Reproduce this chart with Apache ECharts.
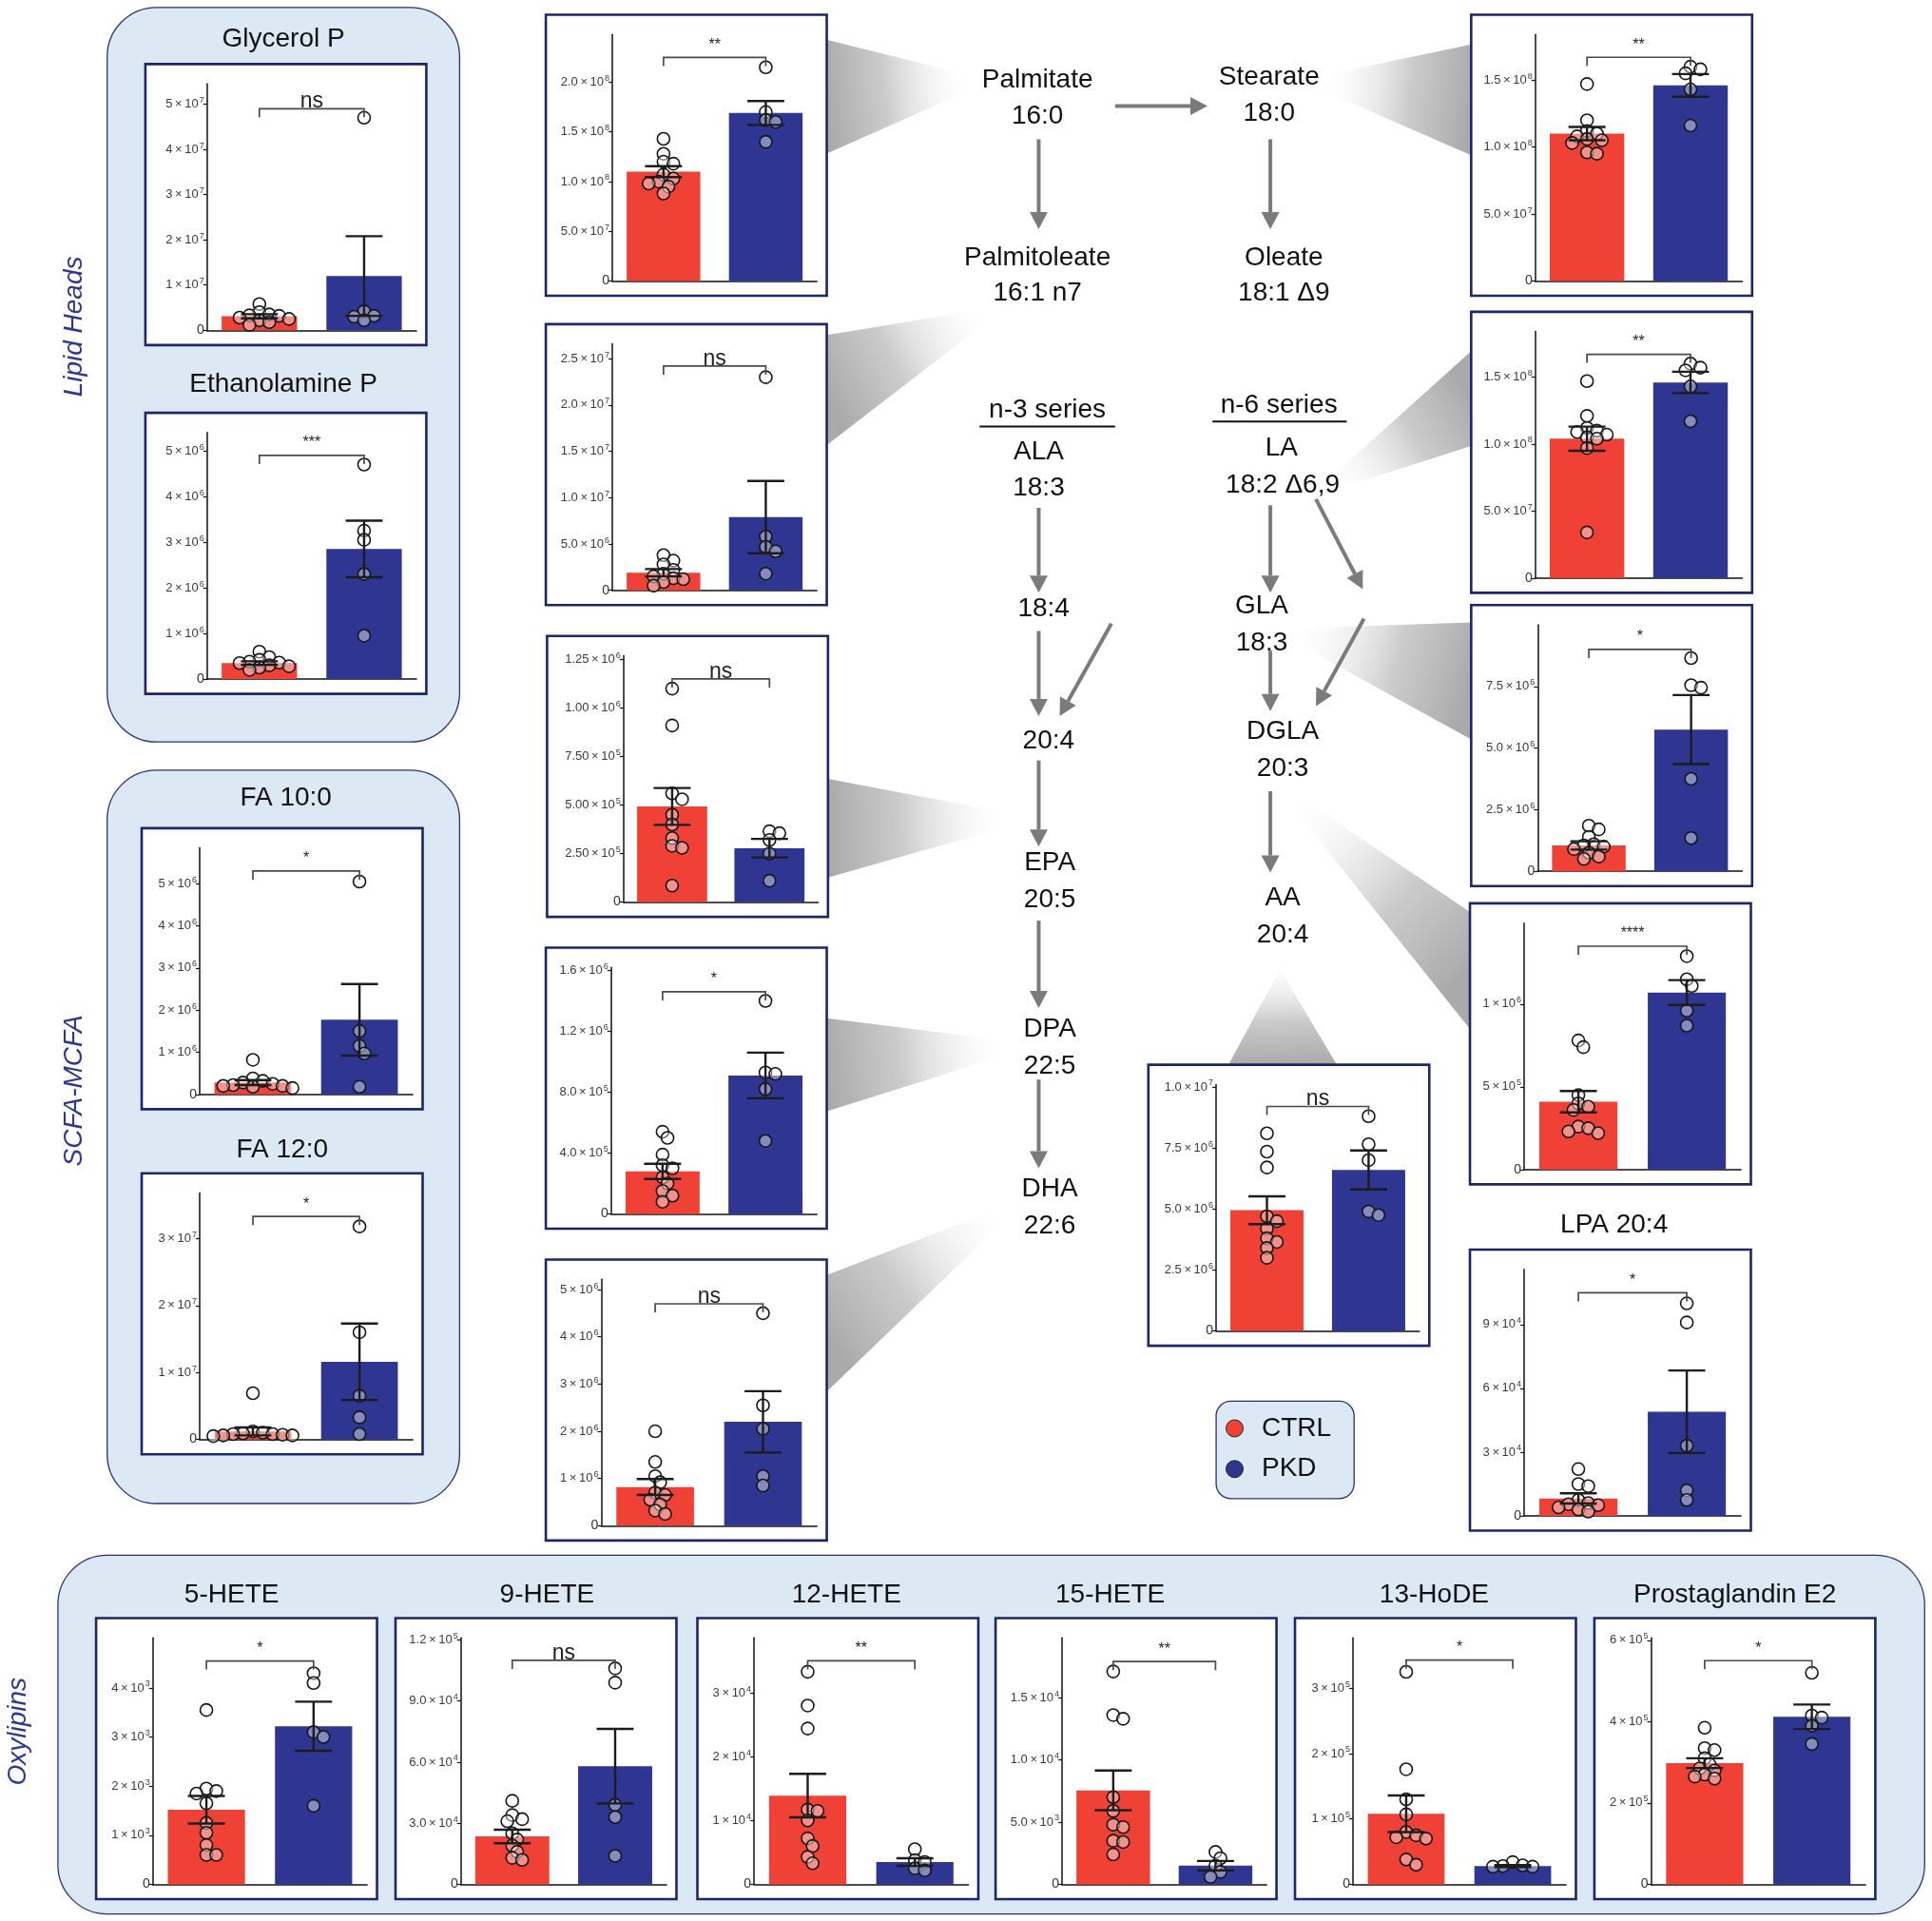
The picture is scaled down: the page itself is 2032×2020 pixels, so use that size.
<!DOCTYPE html>
<html><head><meta charset="utf-8">
<script src="https://cdn.jsdelivr.net/npm/echarts@6/dist/echarts.min.js"></script>
<style>html,body{margin:0;padding:0;background:#fff}#c{width:2032px;height:2020px}</style>
</head><body><div id="c"></div><script>
// ---------------- DATA ----------------
const groups = ['CTRL', 'PKD'];
const panelTitles = ['Glycerol P','Ethanolamine P','FA 10:0','FA 12:0','Palmitate','Palmitoleate','EPA','DPA','DHA',
  'Stearate','LA','GLA','DGLA','LPA 20:4','AA','5-HETE','9-HETE','12-HETE','15-HETE','13-HoDE','Prostaglandin E2'];
const ctrlPoints = [
  [5.8e6,4.0e6,3.5e6,3.3e6,3.2e6,2.8e6,2.5e6,2.2e6,1.8e6,1.2e6],
  [0.6e6,0.48e6,0.42e6,0.38e6,0.36e6,0.35e6,0.3e6,0.28e6,0.25e6,0.2e6],
  [0.82e6,0.38e6,0.32e6,0.28e6,0.25e6,0.22e6,0.2e6,0.2e6,0.18e6,0.15e6],
  [6.9e6,1.2e6,1.0e6,0.9e6,0.8e6,0.8e6,0.7e6,0.6e6,0.6e6,0.5e6],
  [1.43e8,1.28e8,1.2e8,1.18e8,1.07e8,1.03e8,1.0e8,0.98e8,0.95e8,0.88e8],
  [3.8e6,3.2e6,2.8e6,2.2e6,1.8e6,1.5e6,1.3e6,1.2e6,0.9e6,0.5e6],
  [1.1e6,0.91e6,0.56e6,0.53e6,0.45e6,0.4e6,0.33e6,0.29e6,0.28e6,0.085e6],
  [0.54e6,0.5e6,0.39e6,0.32e6,0.3e6,0.24e6,0.2e6,0.15e6,0.12e6,0.08e6],
  [2.0e6,1.35e6,1.05e6,0.92e6,0.7e6,0.65e6,0.55e6,0.45e6,0.32e6,0.25e6],
  [1.47e8,1.2e8,1.12e8,1.1e8,1.08e8,1.06e8,1.05e8,1.03e8,0.96e8,0.95e8],
  [1.47e8,1.21e8,1.12e8,1.1e8,1.09e8,1.07e8,1.05e8,1.04e8,0.97e8,0.34e8],
  [1.85e6,1.7e6,1.4e6,1.1e6,1.05e6,1.0e6,0.9e6,0.75e6,0.6e6,0.5e6],
  [0.78e6,0.74e6,0.45e6,0.4e6,0.38e6,0.36e6,0.26e6,0.25e6,0.23e6,0.22e6],
  [2.2e4,1.5e4,1.4e4,0.75e4,0.6e4,0.55e4,0.5e4,0.4e4,0.3e4,0.2e4],
  [8.1e6,7.35e6,6.7e6,4.7e6,4.5e6,4.2e6,3.8e6,3.65e6,3.4e6,3.0e6],
  [3.55e3,1.95e3,1.9e3,1.85e3,1.65e3,1.25e3,1.05e3,0.8e3,0.6e3,0.6e3],
  [4.1e4,3.4e4,3.2e4,3.1e4,2.5e4,2.2e4,1.9e4,1.6e4,1.3e4,1.2e4],
  [3.33e4,2.8e4,2.44e4,1.17e4,1.15e4,1.0e4,0.72e4,0.6e4,0.43e4,0.33e4],
  [1.71e4,1.36e4,1.33e4,7.0e3,5.9e3,4.8e3,4.6e3,3.5e3,3.4e3,2.4e3],
  [3.25e5,1.76e5,1.3e5,1.07e5,0.8e5,0.75e5,0.72e5,0.7e5,0.38e5,0.3e5],
  [3.85e5,3.35e5,3.3e5,3.1e5,2.95e5,2.85e5,2.8e5,2.7e5,2.65e5,2.6e5]
];
const pkdPoints = [
  [4.7e7,4.2e6,3.2e6,3.0e6,2.2e6],
  [4.7e6,3.25e6,3.05e6,2.3e6,0.95e6],
  [5.05e6,1.5e6,1.15e6,0.97e6,0.18e6],
  [3.18e7,1.6e7,6.5e6,3.3e6,0.8e6],
  [2.15e8,1.7e8,1.62e8,1.6e8,1.4e8],
  [2.3e7,5.8e6,4.7e6,4.2e6,1.8e6],
  [0.365e6,0.355e6,0.32e6,0.25e6,0.11e6],
  [1.4e6,0.93e6,0.92e6,0.82e6,0.48e6],
  [4.5e6,2.55e6,2.05e6,1.05e6,0.85e6],
  [1.6e8,1.58e8,1.55e8,1.43e8,1.16e8],
  [1.6e8,1.57e8,1.55e8,1.43e8,1.17e8],
  [8.65e6,7.55e6,7.45e6,3.75e6,1.35e6],
  [1.29e6,1.15e6,1.11e6,0.96e6,0.87e6],
  [1.0e5,9.1e4,3.3e4,1.2e4,0.75e4],
  [8.8e6,7.65e6,7.0e6,4.9e6,4.75e6],
  [4.3e3,4.1e3,3.1e3,3.0e3,1.6e3],
  [1.06e5,9.9e4,3.9e4,3.3e4,1.4e4],
  [0.55e4,0.38e4,0.35e4,0.25e4,0.22e4],
  [2.6e3,2.1e3,1.5e3,1.0e3,0.6e3],
  [0.34e5,0.29e5,0.28e5,0.27e5,0.27e5],
  [5.2e5,4.15e5,4.1e5,3.9e5,3.45e5]
];
const barMeans = [
  [3.1e6,1.2e7],[0.35e6,2.85e6],[0.28e6,1.77e6],[1.2e6,1.16e7],[1.1e8,1.69e8],[1.9e6,7.9e6],
  [4.93e5,2.78e5],[2.8e5,9.1e5],[8.2e5,2.2e6],[1.1e8,1.46e8],[1.04e8,1.46e8],[1.05e6,5.75e6],
  [4.1e5,1.07e6],[8.2e3,4.9e4],[4.95e6,6.6e6],[1.52e3,3.22e3],[2.35e4,5.8e4],[1.39e4,3.5e3],
  [7.55e3,1.5e3],[1.08e5,2.8e4],[2.98e5,4.12e5]
];
const barSems = [
  [0.45e6,0.88e7],[0.04e6,0.62e6],[0.06e6,0.85e6],[0.6e6,0.57e7],[0.055e8,0.12e8],[0.4e6,0.39e7],
  [0.095e6,0.048e6],[0.05e6,0.15e6],[0.17e6,0.65e6],[0.05e8,0.085e8],[0.09e8,0.08e8],[0.17e6,1.4e6],
  [0.065e6,0.075e6],[0.24e4,1.94e4],[0.57e6,0.8e6],[0.28e3,0.5e3],[0.33e4,1.83e4],[0.34e4,0.06e4],
  [1.6e3,0.38e3],[0.28e5,0.015e5],[0.12e5,0.3e5]
];
const yTicks = [
  [0,1e7,2e7,3e7,4e7,5e7],[0,1e6,2e6,3e6,4e6,5e6],[0,1e6,2e6,3e6,4e6,5e6],[0,1e7,2e7,3e7],
  [0,5e7,1e8,1.5e8,2e8],[0,5e6,1e7,1.5e7,2e7,2.5e7],[0,2.5e5,5e5,7.5e5,1e6,1.25e6],[0,4e5,8e5,1.2e6,1.6e6],
  [0,1e6,2e6,3e6,4e6,5e6],[0,5e7,1e8,1.5e8],[0,5e7,1e8,1.5e8],[0,2.5e6,5e6,7.5e6],[0,5e5,1e6],
  [0,3e4,6e4,9e4],[0,2.5e6,5e6,7.5e6,1e7],[0,1e3,2e3,3e3,4e3],[0,3e4,6e4,9e4,1.2e5],[0,1e4,2e4,3e4],
  [0,5e3,1e4,1.5e4],[0,1e5,2e5,3e5],[0,2e5,4e5,6e5]
];
const tickDecimals = [0,0,0,0,1,1,2,1,0,1,1,1,0,0,1,0,1,0,1,0,0];
const yMax = [5.45e7,5.4e6,5.85e6,3.68e7,2.48e8,2.66e7,1.27e6,1.62e6,5.22e6,1.84e8,1.84e8,1.0e7,1.49e6,1.16e5,1.01e7,5.02e3,1.21e5,3.86e4,1.98e4,3.77e5,6.06e5];
const bracketY = [4.9e7,4.9e6,5.3e6,3.33e7,2.25e8,2.42e7,1.15e6,1.46e6,4.7e6,1.67e8,1.67e8,9.0e6,1.35e6,1.05e5,9.2e6,4.55e3,1.1e5,3.5e4,1.79e4,3.43e5,5.5e5];
const sigLabels = ['ns','***','*','*','**','ns','ns','*','ns','**','**','*','****','*','ns','*','ns','**','**','*','*'];

// ---------------- LAYOUT (reference px, scaled) ----------------
const S = 2032 / 1568;
const FONT = '"Liberation Sans", Arial, Helvetica, sans-serif';
const colors = ['#ef4136', '#2e3691'];
const boxes = [
  [118,52,50],[118,335,50],[115,672,47],[115,952,47],
  [443,12,54],[443,263,54],[444,516,62],[443,769,53],[443,1022,45],
  [1194,12,52],[1194,253,52],[1194,491,54],[1193,733,44],[1193,1014,44],
  [932,864,55],
  [78,1313,46],[321,1313,53],[566,1313,46],[808,1313,54],[1051,1313,47],[1294,1313,46]
];
const titlePos = [[230,32],[230,312],[232,648],[229,933],null,null,null,null,null,null,null,null,null,[1310,994],null,
  [188,1294],[444,1294],[687,1294],[901,1294],[1164,1294],[1408,1294]];

function fmtTick(v, dec) {
  if (v === 0) return '{z|0}';
  const e = Math.floor(Math.log10(v) + 1e-9);
  const m = v / Math.pow(10, e);
  return '{m|' + m.toFixed(dec) + '\u2009\u00d7\u200910}{e|' + e + '}';
}

function swarm(vals, center, pxPerY, bandPx, d) {
  const placed = [];
  const res = new Array(vals.length);
  const order = vals.map((v, k) => k).sort((a, b) => vals[b] - vals[a]);
  order.forEach(k => {
    const y = vals[k] * pxPerY;
    let off = 0;
    for (let t = 0; t < 60; t++) {
      off = t === 0 ? 0 : (t % 2 ? 1 : -1) * Math.ceil(t / 2) * d * 0.4;
      if (placed.every(p => Math.hypot(p[0] - off, p[1] - y) >= d * 0.62)) break;
    }
    placed.push([off, y]);
    res[k] = [center + off / bandPx, vals[k]];
  });
  return res;
}

const grids = [], xAxes = [], yAxes = [], series = [];
const SYM = 13;
panelTitles.forEach((name, i) => {
  const [bx, by, off] = boxes[i];
  const left = (bx + off) * S, top = (by + 16) * S, width = (220 - off) * S, height = 200 * S;
  grids.push({ left, top, width, height, show: false });
  xAxes.push({ gridIndex: i, type: 'category', data: groups, boundaryGap: true,
    axisLine: { onZero: false, lineStyle: { color: '#111', width: 1.5 } },
    axisTick: { alignWithLabel: true, length: 6, lineStyle: { color: '#111', width: 1.5 } },
    axisLabel: { show: false } });
  xAxes.push({ gridIndex: i, type: 'value', min: -0.5, max: 1.5, show: false,
    axisLine: { onZero: false }, splitLine: { show: false } });
  const dec = tickDecimals[i];
  yAxes.push({ gridIndex: i, type: 'value', min: 0, max: yMax[i],
    axisLine: { show: true, onZero: false, lineStyle: { color: '#111', width: 1.5 } },
    axisTick: { show: true, length: 4, customValues: yTicks[i], lineStyle: { color: '#111', width: 1.2 } },
    splitLine: { show: false },
    axisLabel: { customValues: yTicks[i], margin: 3, formatter: v => fmtTick(v, dec),
      rich: { z: { fontSize: 14, color: '#333', fontFamily: FONT, lineHeight: 17 },
              m: { fontSize: 13, color: '#3a3a3a', fontFamily: FONT, lineHeight: 17 },
              e: { fontSize: 9, color: '#3a3a3a', fontFamily: FONT, lineHeight: 10, verticalAlign: 'top', padding: [0, 0, 0, 1] } } } });
  series.push({ type: 'bar', xAxisIndex: 2 * i, yAxisIndex: i, barWidth: '72%', silent: true, z: 2,
    data: barMeans[i].map((v, k) => ({ value: v, itemStyle: { color: colors[k] } })) });
  const pxPerY = height / yMax[i], bandPx = width / 2;
  const pts = swarm(ctrlPoints[i], 0, pxPerY, bandPx, SYM).concat(swarm(pkdPoints[i], 1, pxPerY, bandPx, SYM));
  series.push({ type: 'scatter', xAxisIndex: 2 * i + 1, yAxisIndex: i, symbol: 'circle', symbolSize: SYM, silent: true, z: 3,
    itemStyle: { color: 'rgba(255,255,255,0.42)', borderColor: '#161616', borderWidth: 1.6, opacity: 1 },
    data: pts });
  series.push({ type: 'custom', xAxisIndex: 2 * i + 1, yAxisIndex: i, silent: true, z: 4,
    data: barMeans[i].map((m, k) => [k, m, barSems[i][k]]),
    renderItem: (params, api) => {
      const x = api.value(0), m = api.value(1), s = api.value(2);
      const pT = api.coord([x, m + s]), pB = api.coord([x, m - s]);
      const hw = 15 * S, st = { stroke: '#1c1c1c', lineWidth: 2.4 };
      return { type: 'group', children: [
        { type: 'line', shape: { x1: pT[0], y1: pT[1], x2: pB[0], y2: pB[1] }, style: st },
        { type: 'line', shape: { x1: pT[0] - hw, y1: pT[1], x2: pT[0] + hw, y2: pT[1] }, style: st },
        { type: 'line', shape: { x1: pB[0] - hw, y1: pB[1], x2: pB[0] + hw, y2: pB[1] }, style: st } ] };
    } });
  const lab = sigLabels[i];
  series.push({ type: 'custom', xAxisIndex: 2 * i + 1, yAxisIndex: i, silent: true, z: 4,
    data: [[0, bracketY[i]]],
    renderItem: (params, api) => {
      const y = api.value(1);
      const a = api.coord([0, y]), b = api.coord([1, y]);
      const tk = 7 * S, isNs = lab === 'ns';
      return { type: 'group', children: [
        { type: 'polyline', shape: { points: [[a[0], a[1] + tk], [a[0], a[1]], [b[0], b[1]], [b[0], b[1] + tk]] },
          style: { stroke: '#4a4a4a', lineWidth: 1.7, fill: null } },
        { type: 'text', x: (a[0] + b[0]) / 2, y: isNs ? a[1] + 4 : a[1] - 5,
          style: { text: lab, fontSize: isNs ? 23 : 16, fill: '#222', fontFamily: FONT, align: 'center', verticalAlign: 'bottom' } } ] };
    } });
});

// ---------------- DECORATION ----------------
const g = [];
function rrect(x, y, w, h, r, fill, stroke, lw, z) {
  g.push({ type: 'rect', z: z, shape: { x: x * S, y: y * S, width: w * S, height: h * S, r: r * S },
    style: { fill: fill, stroke: stroke, lineWidth: lw } });
}
function txt(s, x, y, size, opts) {
  g.push(Object.assign({ type: 'text', z: 10, x: x * S, y: y * S,
    style: Object.assign({ text: s, fontSize: size, fill: '#111', fontFamily: FONT, align: 'center', verticalAlign: 'middle' }, (opts && opts.style) || {}) },
    (opts && opts.el) || {}));
}
function arrow(x1, y1, x2, y2) {
  const X1 = x1 * S, Y1 = y1 * S, X2 = x2 * S, Y2 = y2 * S;
  const a = Math.atan2(Y2 - Y1, X2 - X1), hl = 18, hw = 9.5;
  const bx = X2 - hl * Math.cos(a), by = Y2 - hl * Math.sin(a);
  g.push({ type: 'line', z: 9, shape: { x1: X1, y1: Y1, x2: bx, y2: by }, style: { stroke: '#7b7b7b', lineWidth: 4 } });
  g.push({ type: 'polygon', z: 9, shape: { points: [[X2, Y2], [bx - hw * Math.sin(a), by + hw * Math.cos(a)], [bx + hw * Math.sin(a), by - hw * Math.cos(a)]] },
    style: { fill: '#7b7b7b' } });
}
function wedge(p1, p2, t1, t2) {
  const pts = [p1, p2, t2, t1].map(p => [p[0] * S, p[1] * S]);
  const bx = (pts[0][0] + pts[1][0]) / 2, byy = (pts[0][1] + pts[1][1]) / 2;
  const tx = (pts[2][0] + pts[3][0]) / 2, ty = (pts[2][1] + pts[3][1]) / 2;
  g.push({ type: 'polygon', z: -4, shape: { points: pts },
    style: { fill: { type: 'linear', global: true, x: bx, y: byy, x2: tx, y2: ty,
      colorStops: [{ offset: 0, color: 'rgba(165,165,165,0.95)' }, { offset: 0.4, color: 'rgba(190,190,190,0.8)' }, { offset: 1, color: 'rgba(255,255,255,0)' }] } } });
}

// group backgrounds
rrect(87, 6, 286, 596, 40, '#dce9f5', '#27336f', 1.3, -6);
rrect(87, 625, 286, 595, 40, '#dce9f5', '#27336f', 1.3, -6);
rrect(47, 1262, 1515, 291, 40, '#dce9f5', '#27336f', 1.3, -6);
rrect(987, 1137, 112, 79, 12, '#dce9f5', '#27336f', 1.3, -6);

// wedges
wedge([670,32],[670,125],[790,62],[790,72]);
wedge([670,272],[670,362],[805,250],[805,258]);
wedge([672,632],[672,712],[820,660],[820,670]);
wedge([670,826],[670,902],[820,845],[820,855]);
wedge([670,1035],[670,1130],[818,978],[818,988]);
wedge([1194,36],[1194,126],[1070,62],[1070,72]);
wedge([1194,285],[1194,362],[1075,392],[1075,400]);
wedge([1194,505],[1194,600],[1045,510],[1045,518]);
wedge([1193,740],[1193,835],[1045,640],[1045,650]);
wedge([997,864],[1085,864],[1045,775],[1032,775]);

// panel boxes
boxes.forEach(b => rrect(b[0], b[1], 228, 228, 0, '#ffffff', '#1b2766', 2.6, -3));

// panel titles
titlePos.forEach((p, i) => { if (p) txt(panelTitles[i], p[0], p[1], 28); });

// side labels
txt('Lipid Heads', 60, 265, 28, { style: { fontStyle: 'italic', fill: '#2b3990' }, el: { rotation: Math.PI / 2 } });
txt('SCFA-MCFA', 60, 885, 28, { style: { fontStyle: 'italic', fill: '#2b3990' }, el: { rotation: Math.PI / 2 } });
txt('Oxylipins', 15, 1405, 28, { style: { fontStyle: 'italic', fill: '#2b3990' }, el: { rotation: Math.PI / 2 } });

// pathway labels
const pathLabels = [
  ['Palmitate',842,65],['16:0',842,94],['Stearate',1030,63],['18:0',1030,92],
  ['Palmitoleate',842,209],['16:1 n7',842,238],['Oleate',1042,209],['18:1 \u03949',1042,238],
  ['n-3 series',850,333],['ALA',843,367],['18:3',843,396],
  ['n-6 series',1038,329],['LA',1040,364],['18:2 \u03946,9',1041,394],
  ['18:4',847,494],['GLA',1024,492],['18:3',1024,522],
  ['20:4',851,601],['DGLA',1041,594],['20:3',1041,624],
  ['EPA',852,700],['20:5',852,730],['AA',1041,729],['20:4',1041,759],
  ['DPA',852,835],['22:5',852,865],['DHA',852,965],['22:6',852,995]
];
pathLabels.forEach(l => txt(l[0], l[1], l[2], 28));
g.push({ type: 'line', z: 10, shape: { x1: 795 * S, y1: 346 * S, x2: 905 * S, y2: 346 * S }, style: { stroke: '#111', lineWidth: 2 } });
g.push({ type: 'line', z: 10, shape: { x1: 984 * S, y1: 342 * S, x2: 1093 * S, y2: 342 * S }, style: { stroke: '#111', lineWidth: 2 } });

// arrows
arrow(905,86,980,86);
arrow(843,113,843,186);
arrow(1031,113,1031,186);
arrow(843,412,843,481);
arrow(843,512,843,581);
arrow(902,506,860,581);
arrow(843,617,843,687);
arrow(843,747,843,818);
arrow(843,876,843,948);
arrow(1031,410,1031,481);
arrow(1068,405,1106,478);
arrow(1031,528,1031,577);
arrow(1107,502,1068,573);
arrow(1031,642,1031,708);

// legend
g.push({ type: 'circle', z: 10, shape: { cx: 1002 * S, cy: 1159 * S, r: 9 }, style: { fill: colors[0], stroke: '#222', lineWidth: 1 } });
g.push({ type: 'circle', z: 10, shape: { cx: 1002 * S, cy: 1192 * S, r: 9 }, style: { fill: colors[1], stroke: '#222', lineWidth: 1 } });
txt(groups[0], 1024, 1159, 28, { style: { align: 'left' } });
txt(groups[1], 1024, 1192, 28, { style: { align: 'left' } });

const chart = echarts.init(document.getElementById('c'), null, { renderer: 'canvas', width: 2032, height: 2020 });
chart.setOption({
  backgroundColor: '#ffffff',
  animation: false,
  textStyle: { fontFamily: FONT },
  grid: grids, xAxis: xAxes, yAxis: yAxes, series: series,
  graphic: { elements: g }
});
</script></body></html>
